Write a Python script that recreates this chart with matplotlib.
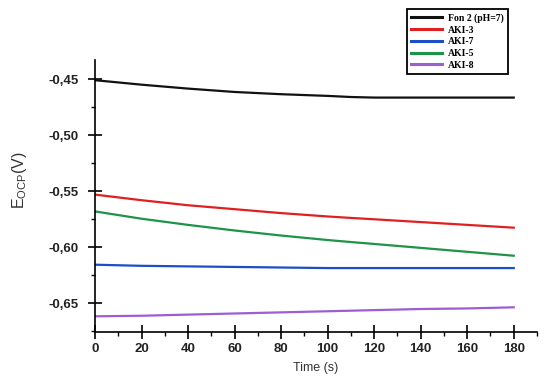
import matplotlib
matplotlib.use("Agg")
import matplotlib.pyplot as plt
from matplotlib.ticker import MultipleLocator, FuncFormatter

time = [0, 20, 40, 60, 80, 100, 110, 120, 140, 160, 180]
fon2 = [-0.451, -0.455, -0.4585, -0.4615, -0.4635, -0.465, -0.466, -0.4665, -0.4665, -0.4665, -0.4665]
aki3 = [-0.553, -0.558, -0.5625, -0.566, -0.5695, -0.5725, -0.5738, -0.575, -0.5775, -0.580, -0.5825]
aki7 = [-0.6155, -0.6165, -0.617, -0.6175, -0.618, -0.6185, -0.6185, -0.6185, -0.6185, -0.6185, -0.6185]
aki5 = [-0.568, -0.5745, -0.580, -0.585, -0.5895, -0.5935, -0.5953, -0.597, -0.6005, -0.604, -0.6075]
aki8 = [-0.6615, -0.661, -0.660, -0.659, -0.658, -0.657, -0.6565, -0.656, -0.655, -0.6545, -0.6535]

labels = ["Fon 2 (pH=7)", "AKI-3", "AKI-7", "AKI-5", "AKI-8"]
colors = ["#111111", "#e02020", "#1a4fc8", "#1e9448", "#9b5fd2"]

plt.rcParams['font.family'] = ['Liberation Sans', 'DejaVu Sans']
fig = plt.figure(figsize=(5.59, 3.83), dpi=100)
ax = fig.add_axes([95/559, 1-332/383, (537-95)/559, (332-60)/383])

for ys, lab, c in zip([fon2, aki3, aki7, aki5, aki8], labels, colors):
    ax.plot(time, ys, color=c, lw=1.6, label=lab)

ax.set_xlim(0, 190)
ax.set_ylim(-0.6755, -0.433)
ax.xaxis.set_major_locator(MultipleLocator(20))
ax.xaxis.set_minor_locator(MultipleLocator(10))
ax.yaxis.set_major_locator(MultipleLocator(0.05))
ax.yaxis.set_minor_locator(MultipleLocator(0.025))
ax.yaxis.set_major_formatter(FuncFormatter(lambda v, p: f"{v:.2f}".replace('.', ',')))
ax.spines['top'].set_visible(False)
ax.spines['right'].set_visible(False)
for s in ['left', 'bottom']:
    ax.spines[s].set_linewidth(1.2)
ax.tick_params(which='major', direction='inout', length=10, width=1.2, labelsize=9.5)
ax.tick_params(axis='y', which='major', pad=7)
ax.tick_params(axis='x', which='major', pad=3)
ax.tick_params(which='minor', direction='out', length=3, width=1.0)
for lab in ax.get_xticklabels() + ax.get_yticklabels():
    lab.set_fontweight('bold')
    lab.set_color('#222222')

ax.set_xlabel("Time (s)", fontsize=9, color='#333333')
ax.xaxis.set_label_coords(0.5, -0.112)
ax.set_ylabel(r"E$_{\mathregular{OCP}}$(V)", fontsize=11.5, color='#333333')
ax.yaxis.set_label_coords(-0.150, 0.56)

leg = ax.legend(loc='upper left', bbox_to_anchor=((407-95)/442, 1+51/272), frameon=True,
                fancybox=False, edgecolor='black', framealpha=1,
                prop={'family': 'Liberation Serif', 'weight': 'bold', 'size': 7},
                handlelength=3.2, handletextpad=0.6, labelspacing=0.28,
                borderpad=0.45, borderaxespad=0)
leg.get_frame().set_linewidth(1.3)
for l in leg.get_lines():
    l.set_linewidth(2.2)

fig.savefig("out.png", dpi=100)
